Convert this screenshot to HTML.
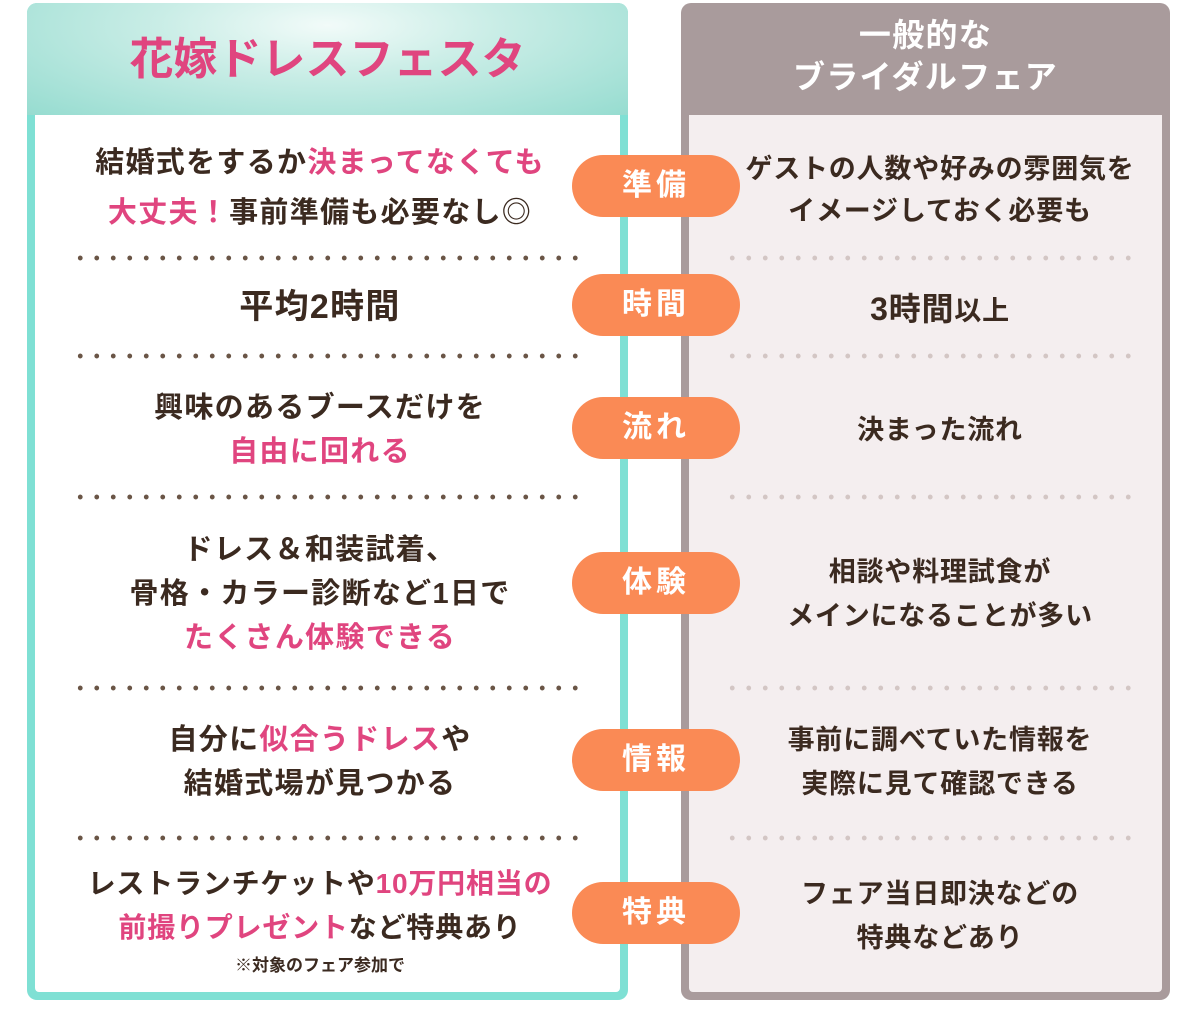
<!DOCTYPE html>
<html><head><meta charset="utf-8"><style>
*{margin:0;padding:0;box-sizing:border-box}
body{width:1200px;height:1014px;background:#fff;position:relative;overflow:hidden;font-family:"Liberation Sans","Noto Sans CJK JP",sans-serif;font-weight:bold;color:#3b2a20}
.lp{position:absolute;left:27px;top:3px;width:601px;height:997px;border-radius:10px;background:#7fe0d4}
.lh{position:absolute;left:27px;top:3px;width:601px;height:112px;border-radius:10px 10px 0 0;background:radial-gradient(ellipse at 50% 20%,#f2fbf9 0%,#c9ede6 40%,#96dcd0 100%)}
.li{position:absolute;left:35px;top:115px;width:585px;height:877px;background:#fff;border-radius:0 0 4px 4px}
.rp{position:absolute;left:681px;top:3px;width:489px;height:997px;border-radius:10px;background:#a99b9c}
.ri{position:absolute;left:689px;top:115px;width:473px;height:877px;background:#f4eeef;border-radius:0 0 4px 4px}
.t{position:absolute;text-align:center;font-size:29px;line-height:44px;letter-spacing:1.3px;white-space:nowrap}
.l{left:35px;width:570px}
.r{left:700px;width:480px;font-size:27px;letter-spacing:0.8px}
.p{color:#e0457f}
.pill{position:absolute;left:572px;width:168px;height:62px;border-radius:31px;background:#fa8a55;color:#fff;font-size:30px;line-height:62px;text-align:center;letter-spacing:4px}
.d{position:absolute;height:6px;background-image:radial-gradient(circle,#6a5546 2.2px,transparent 2.6px);background-size:16.5px 6px}
.dr{background-image:radial-gradient(circle,#d3c6c4 2.2px,transparent 2.6px)}
</style></head><body>
<div class="lp"></div><div class="lh"></div><div class="li"></div>
<div class="rp"></div><div class="ri"></div>
<div class="t" style="left:27px;width:601px;top:30px;font-size:44px;line-height:60px;color:#e0457f;letter-spacing:0">花嫁ドレスフェスタ</div>
<div class="t" style="left:681px;width:489px;top:14px;font-size:32px;line-height:42px;color:#fff">一般的な<br>ブライダルフェア</div>

<div class="t l" style="top:138px;line-height:50px">結婚式をするか<span class="p">決まってなくても</span><br><span class="p">大丈夫！</span>事前準備も必要なし◎</div>
<div class="t r" style="top:148px;line-height:42px">ゲストの人数や好みの雰囲気を<br>イメージしておく必要も</div>

<div class="t l" style="top:285px;font-size:34px">平均2時間</div>
<div class="t r" style="top:287px;font-size:32px">3時間<span style="font-size:27px">以上</span></div>

<div class="t l" style="top:386px">興味のあるブースだけを<br><span class="p">自由に回れる</span></div>
<div class="t r" style="top:408px">決まった流れ</div>

<div class="t l" style="top:528px">ドレス＆和装試着、<br>骨格・カラー診断など1日で<br><span class="p">たくさん体験できる</span></div>
<div class="t r" style="top:550px">相談や料理試食が<br>メインになることが多い</div>

<div class="t l" style="top:718px">自分に<span class="p">似合うドレス</span>や<br>結婚式場が見つかる</div>
<div class="t r" style="top:718px">事前に調べていた情報を<br>実際に見て確認できる</div>

<div class="t l" style="top:862px;font-size:28px;letter-spacing:0.8px">レストランチケットや<span class="p">10万円相当の</span><br><span class="p">前撮りプレゼント</span>など特典あり</div>
<div class="t l" style="top:954px;font-size:17px;line-height:24px;letter-spacing:0">※対象のフェア参加で</div>
<div class="t r" style="top:872px">フェア当日即決などの<br>特典などあり</div>

<div class="pill" style="top:155px">準備</div>
<div class="pill" style="top:274px">時間</div>
<div class="pill" style="top:397px">流れ</div>
<div class="pill" style="top:552px">体験</div>
<div class="pill" style="top:729px">情報</div>
<div class="pill" style="top:882px">特典</div>

<div class="d" style="left:72px;width:516px;top:255px"></div>
<div class="d" style="left:72px;width:516px;top:353px"></div>
<div class="d" style="left:72px;width:516px;top:494px"></div>
<div class="d" style="left:72px;width:516px;top:685px"></div>
<div class="d" style="left:72px;width:516px;top:835px"></div>
<div class="d dr" style="left:724px;width:418px;top:255px"></div>
<div class="d dr" style="left:724px;width:418px;top:353px"></div>
<div class="d dr" style="left:724px;width:418px;top:494px"></div>
<div class="d dr" style="left:724px;width:418px;top:685px"></div>
<div class="d dr" style="left:724px;width:418px;top:835px"></div>
</body></html>
